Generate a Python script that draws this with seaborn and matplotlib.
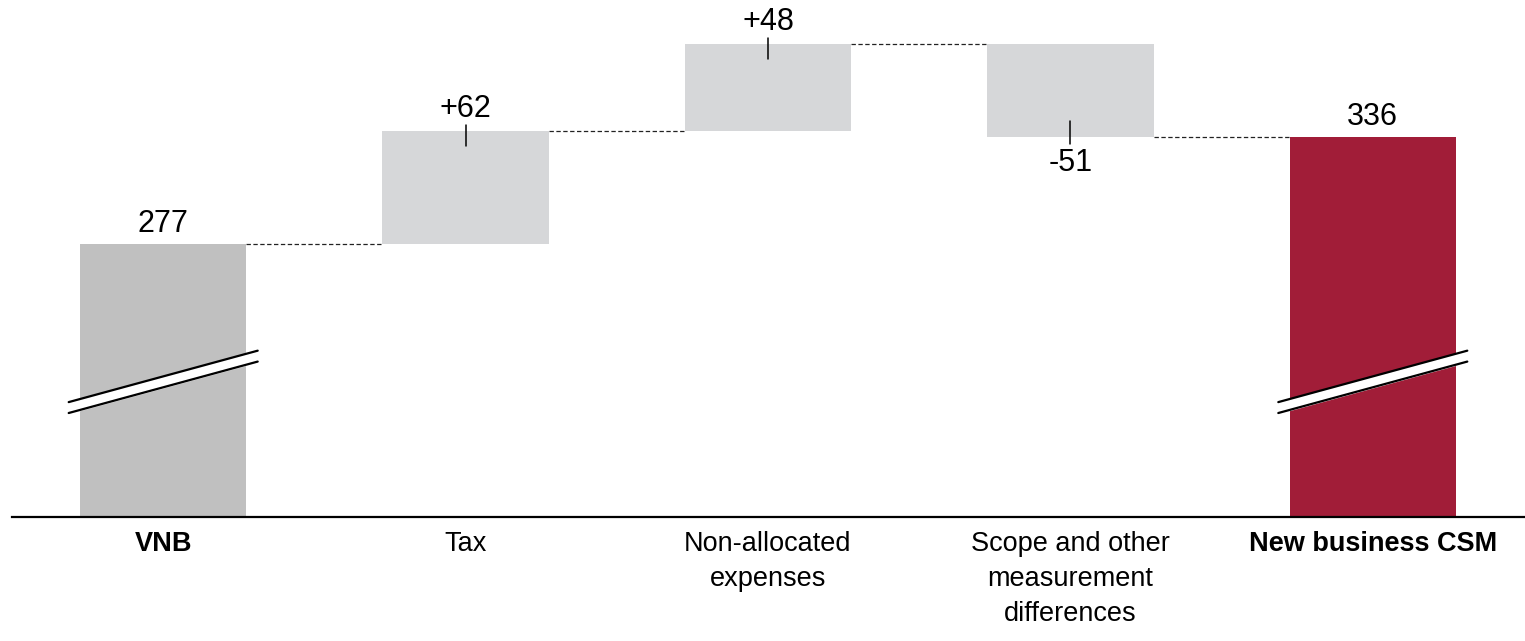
import numpy as np
import pandas as pd
import seaborn as sns
import matplotlib.pyplot as plt

# waterfall data
categories = ["VNB", "Tax", "Non-allocated\nexpenses",
              "Scope and other\nmeasurement\ndifferences", "New business CSM"]
steps = [277, 62, 48, -51, 336]
kinds = ["total", "delta", "delta", "delta", "total"]
labels = ["277", "+62", "+48", "-51", "336"]

colors = {"VNB": "#c0c0c0", "delta": "#d6d7d9", "New business CSM": "#a11d38"}

# bottoms / tops of each floating bar
bottoms, heights, levels = [], [], []
running = 0
for v, k in zip(steps, kinds):
    if k == "total":
        bottoms.append(0)
        heights.append(v)
        running = v
    else:
        bottoms.append(min(running, running + v))
        heights.append(abs(v))
        running += v
    levels.append(running)
tops = [b + h for b, h in zip(bottoms, heights)]

df = pd.DataFrame({"category": categories, "height": heights})

sns.set_theme(style="white")
plt.rcParams["font.family"] = ["Liberation Sans", "DejaVu Sans"]

fig = plt.figure(figsize=(15.25, 6.41), dpi=100)
ax = fig.add_axes([12 / 1525, 124 / 641, 1512 / 1525, 517 / 641])

bar_w = 0.55
sns.barplot(data=df, x="category", y="height", order=categories,
            bottom=np.array(bottoms), width=bar_w, ax=ax, color=colors["delta"],
            saturation=1, linewidth=0, errorbar=None)

for i, patch in enumerate(ax.patches):
    if kinds[i] == "delta":
        patch.set_facecolor(colors["delta"])
    else:
        patch.set_facecolor(colors[categories[i]])

ax.set_ylim(126.8, 411.2)
ax.set_xlim(-0.5, 4.5)

# dashed connectors between bars
for i in range(len(categories) - 1):
    ax.plot([i + bar_w / 2, i + 1 - bar_w / 2], [levels[i], levels[i]],
            color="#222222", lw=0.9, linestyle=(0, (3.5, 2)), zorder=1)

# value labels
for i, (v, k) in enumerate(zip(steps, kinds)):
    if k == "total":
        ax.annotate(labels[i], (i, tops[i]), xytext=(0, 8.5),
                    textcoords="offset points", ha="center", va="baseline",
                    fontsize=22, color="black")
    elif v >= 0:
        ax.plot([i, i], [tops[i] + 3.3, tops[i] - 8.3], color="black", lw=1.1)
        ax.annotate(labels[i], (i, tops[i]), xytext=(0, 10),
                    textcoords="offset points", ha="center", va="baseline",
                    fontsize=22, color="black")
    else:
        ax.plot([i, i], [bottoms[i] - 3.8, bottoms[i] + 8.8], color="black", lw=1.1)
        ax.annotate(labels[i], (i, bottoms[i]), xytext=(0, -8),
                    textcoords="offset points", ha="center", va="top",
                    fontsize=22, color="black")

# axis break marks on the total bars
half = 0.3125
gap = 6.0
for i, k in enumerate(kinds):
    if k != "total":
        continue
    xs = np.array([i - half, i + half])
    upper = np.array([190.0, 218.3])
    lower = upper - gap
    ax.fill_between(xs, lower, upper, color="white", zorder=3, clip_on=False)
    ax.plot(xs, upper, color="black", lw=1.6, zorder=4, clip_on=False)
    ax.plot(xs, lower, color="black", lw=1.6, zorder=4, clip_on=False)

sns.despine(ax=ax, left=True, top=True, right=True)
ax.spines["bottom"].set_color("black")
ax.spines["bottom"].set_linewidth(1.6)
ax.set_yticks([])
ax.set_xlabel("")
ax.set_ylabel("")
ax.tick_params(axis="x", length=0, pad=10, colors="black")
ax.set_xticks(range(len(categories)))
ax.set_xticklabels(categories, fontsize=19.5, linespacing=1.45, color="black")
for i, t in enumerate(ax.get_xticklabels()):
    t.set_multialignment("center")
    if kinds[i] == "total":
        t.set_fontweight("bold")

fig.savefig("out.png", dpi=100)
